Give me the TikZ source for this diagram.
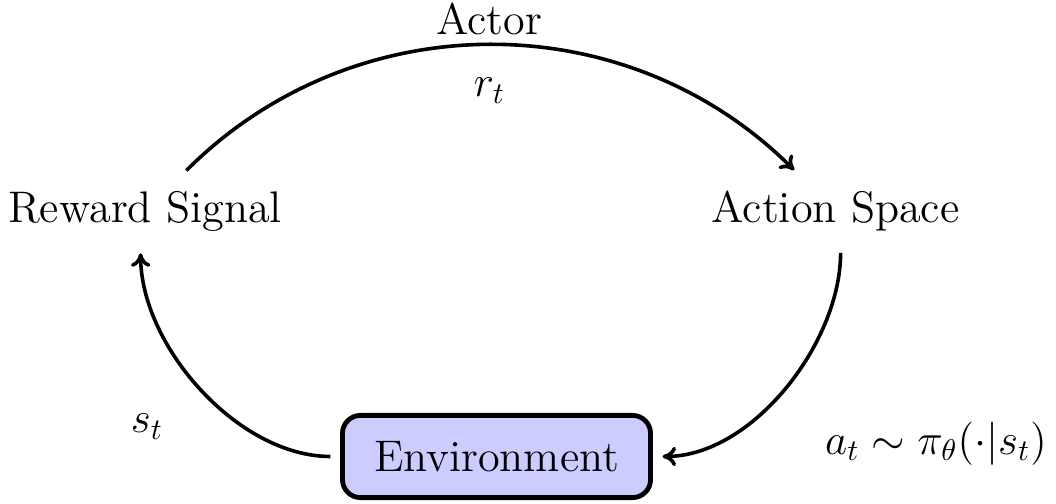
\documentclass[tikz,border=0pt]{standalone}
\usetikzlibrary{arrows.meta}
\begin{document}
\begin{tikzpicture}[x=0.33333pt, y=0.33333pt, font=\fontsize{14.75pt}{18pt}\selectfont,
  txt/.style={inner sep=0pt, anchor=base},
  place/.style={anchor=base, inner xsep=4.8pt, inner ysep=7.1pt, outer sep=0pt},
  envbox/.style={draw, line width=1.6pt, fill=blue!20, rounded corners=6pt,
    minimum width=102.7pt, minimum height=27.4pt, inner sep=0pt, outer sep=4pt},
  flow/.style={-{To[length=4.5pt, width=6.5pt]}, line width=1.2pt}]
\useasboundingbox (0,0) rectangle (1056,504);

% states of the loop
\node[place] (rs) at (145,281) {Reward Signal};
\node[place] (as) at (835.5,281) {Action Space};
\node[envbox] (env) at (496.5,47.5) {Environment};

% labels
\node[txt] (actor) at (489,469) {Actor};
\node[txt] (rt) at (489.5,407) {$r_t$};
\node[txt] (st) at (147,71) {$s_t$};
\node[txt] (at) at (936,50) {$a_t \sim \pi_\theta(\cdot|s_t)$};

% connectors
\draw[flow] (rs) to[bend left=45] (as);
\draw[flow] (as.-83) to[out=-90, in=0, looseness=0.85] (env);
\draw[flow] (env) to[out=180, in=-90, looseness=0.85] (rs.-96);
\end{tikzpicture}
\end{document}
